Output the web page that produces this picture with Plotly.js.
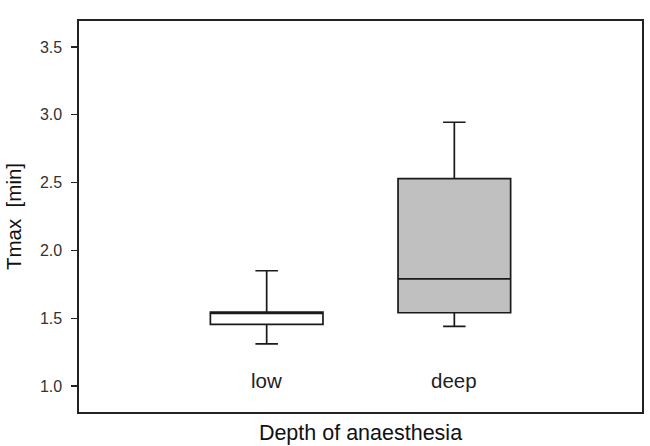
<!DOCTYPE html>
<html>
<head>
<meta charset="utf-8">
<script src="https://cdn.plot.ly/plotly-3.0.1.min.js"></script>
<style>
  html, body { margin: 0; padding: 0; background: #fff; }
  #plot { width: 650px; height: 446px; }
</style>
</head>
<body>
<div id="plot"></div>
<script>
// box statistics (minutes)
const categories = ['low', 'deep'];
const lowerWhisker = [1.31, 1.44];
const q1 = [1.455, 1.54];
const median = [1.535, 1.79];
const q3 = [1.545, 2.53];
const upperWhisker = [1.85, 2.945];
const fills = ['#ffffff', '#c0c0c0'];

const yTicks = [1.0, 1.5, 2.0, 2.5, 3.0, 3.5];

const traces = categories.map((cat, i) => ({
    type: 'box',
    x: [cat],
    q1: [q1[i]],
    median: [median[i]],
    q3: [q3[i]],
    lowerfence: [lowerWhisker[i]],
    upperfence: [upperWhisker[i]],
    width: 0.6,
    whiskerwidth: 0.2,
    fillcolor: fills[i],
    line: { color: '#1a1a1a', width: 1.7 },
    hoverinfo: 'skip',
    showlegend: false
}));

// category names are drawn inside the plot, near the bottom
const labels = categories.map(cat => ({
    x: cat,
    y: 1.037,
    xref: 'x',
    yref: 'y',
    text: cat,
    showarrow: false,
    yanchor: 'middle',
    font: { size: 20.5, color: '#222' }
}));

const layout = {
    width: 650,
    height: 446,
    margin: { l: 79, r: 8, t: 21, b: 34, pad: 0 },
    paper_bgcolor: '#ffffff',
    plot_bgcolor: '#ffffff',
    font: { family: 'Liberation Sans, Arial, sans-serif', color: '#222' },
    boxmode: 'overlay',
    xaxis: {
        type: 'category',
        range: [-1, 2],
        showticklabels: false,
        ticks: '',
        showgrid: false,
        zeroline: false,
        showline: true,
        mirror: true,
        linecolor: '#222',
        linewidth: 1.6,
        title: {
            text: 'Depth of anaesthesia',
            font: { size: 21.5, color: '#111' },
            standoff: 12
        }
    },
    yaxis: {
        range: [0.808, 3.692],
        tickvals: yTicks,
        ticktext: yTicks.map(v => v.toFixed(1)),
        ticks: 'outside',
        ticklen: 6,
        tickwidth: 1.3,
        tickcolor: '#222',
        ticklabelstandoff: 6,
        tickfont: { size: 16, color: '#333' },
        showgrid: false,
        zeroline: false,
        showline: true,
        mirror: true,
        linecolor: '#222',
        linewidth: 1.6,
        title: {
            text: 'Tmax\u00a0 [min]',
            font: { size: 20.5, color: '#111' },
            standoff: 13
        }
    },
    annotations: labels
};

Plotly.newPlot('plot', traces, layout, { displayModeBar: false, staticPlot: true });
</script>
</body>
</html>
